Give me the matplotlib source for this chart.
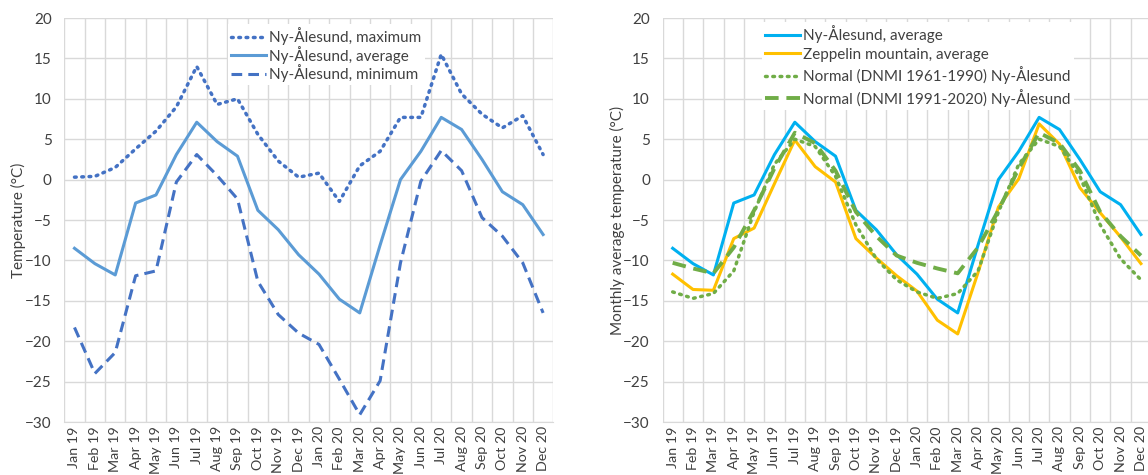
import numpy as np
import matplotlib
matplotlib.use("Agg")
import matplotlib.pyplot as plt
from matplotlib.ticker import FixedLocator

plt.rcParams['font.family'] = ['Lato', 'DejaVu Sans']

# --- data ---------------------------------------------------------------
months = ["Jan 19", "Feb 19", "Mar 19", "Apr 19", "May 19", "Jun 19",
          "Jul 19", "Aug 19", "Sep 19", "Oct 19", "Nov 19", "Dec 19",
          "Jan 20", "Feb 20", "Mar 20", "Apr 20", "May 20", "Jun 20",
          "Jul 20", "Aug 20", "Sep 20", "Oct 20", "Nov 20", "Dec 20"]

ny_max = [0.3, 0.4, 1.5, 3.8, 6.0, 9.0, 14.0, 9.3, 10.0, 5.6, 2.3, 0.3,
          0.8, -2.7, 1.7, 3.5, 7.7, 7.7, 15.5, 10.6, 8.1, 6.4, 7.9, 3.1]
ny_avg = [-8.5, -10.4, -11.8, -2.9, -1.9, 3.1, 7.1, 4.7, 2.9, -3.8, -6.2, -9.3,
          -11.7, -14.8, -16.5, -8.1, 0.0, 3.5, 7.7, 6.2, 2.5, -1.5, -3.1, -6.8]
ny_min = [-18.3, -24.0, -21.4, -11.9, -11.3, -0.3, 3.1, 0.5, -2.4, -12.6, -16.7, -19.0,
          -20.4, -24.7, -29.1, -24.9, -10.3, -0.2, 3.6, 1.1, -4.7, -7.0, -10.3, -16.5]

zeppelin = [-11.7, -13.6, -13.7, -7.3, -6.0, -0.5, 4.9, 1.6, -0.3, -7.3, -9.7, -11.9,
            -13.8, -17.4, -19.1, -11.5, -3.4, 0.1, 6.9, 4.4, -1.0, -4.1, -7.1, -10.4]
normal_6190 = [-13.9, -14.7, -14.1, -11.3, -4.0, 1.9, 5.0, 4.1, 0.4, -5.6, -9.8, -12.4,
               -13.9, -14.7, -14.1, -11.3, -4.0, 1.9, 5.0, 4.1, 0.4, -5.6, -9.8, -12.4]
normal_9120 = [-10.3, -11.0, -11.6, -8.4, -3.8, 1.4, 5.8, 4.5, 1.1, -4.0, -7.0, -9.4,
               -10.3, -11.0, -11.6, -8.4, -3.8, 1.4, 5.8, 4.5, 1.1, -4.0, -7.0, -9.4]

# --- figure -------------------------------------------------------------
W, H = 1148, 475
fig = plt.figure(figsize=(W / 100, H / 100), dpi=100)

ax1 = fig.add_axes([64.3 / W, (H - 422) / H, 489 / W, 404 / H])
ax2 = fig.add_axes([662.5 / W, (H - 422) / H, 488.6 / W, 404 / H])

x = np.arange(len(months))
grid_c = '#D9D9D9'
txt_c = '#404040'
fs = 11


def style(ax):
    ax.set_xlim(-0.5, len(months) - 0.5)
    ax.set_ylim(-30, 20)
    ax.set_yticks(np.arange(-30, 21, 5))
    ax.set_xticks(x)
    ax.set_xticklabels(months, rotation=90)
    ax.xaxis.set_minor_locator(FixedLocator(np.arange(-0.5, len(months), 1)))
    ax.grid(True, which='minor', axis='x', color=grid_c, linewidth=1.0)
    ax.grid(True, which='major', axis='y', color=grid_c, linewidth=1.0)
    ax.set_axisbelow(True)
    for s in ax.spines.values():
        s.set_visible(False)
    ax.spines['bottom'].set_visible(True)
    ax.spines['bottom'].set_color(grid_c)
    ax.tick_params(which='both', length=0, colors=txt_c, labelsize=fs)
    ax.tick_params(axis='y', pad=9)
    ax.tick_params(axis='x', pad=3, labelsize=10.3)


lw = 2.2
# left panel
ax1.plot(x, ny_max, color='#4472C4', lw=2.5, linestyle=(0, (0.5, 1.6)),
         dash_capstyle='round', label='Ny-Ålesund, maximum')
ax1.plot(x, ny_avg, color='#5B9BD5', lw=lw, label='Ny-Ålesund, average')
ax1.plot(x, ny_min, color='#4472C4', lw=lw, linestyle=(0, (3.5, 2.0)),
         label='Ny-Ålesund, minimum')
style(ax1)
leg1 = ax1.legend(loc='upper left', bbox_to_anchor=(228 / W, (H - 24) / H),
                  bbox_transform=fig.transFigure, frameon=True, fancybox=False,
                  edgecolor='none', framealpha=1, fontsize=fs,
                  handlelength=2.3, handletextpad=0.2, labelspacing=0.05,
                  borderpad=0.2, borderaxespad=0)
for t in leg1.get_texts():
    t.set_color(txt_c)

# right panel
ax2.plot(x, ny_avg, color='#00B0F0', lw=lw, label='Ny-Ålesund, average')
ax2.plot(x, zeppelin, color='#FFC000', lw=lw, label='Zeppelin mountain, average')
ax2.plot(x, normal_6190, color='#70AD47', lw=2.5, linestyle=(0, (0.5, 1.6)),
         dash_capstyle='round', label='Normal (DNMI 1961-1990) Ny-Ålesund')
ax2.plot(x, normal_9120, color='#70AD47', lw=2.8, linestyle=(0, (3.5, 2.0)),
         label='Normal (DNMI 1991-2020) Ny-Ålesund')
style(ax2)
leg2 = ax2.legend(loc='upper left', bbox_to_anchor=(762 / W, (H - 22) / H),
                  bbox_transform=fig.transFigure, frameon=True, fancybox=False,
                  edgecolor='none', framealpha=1, fontsize=fs,
                  handlelength=2.3, handletextpad=0.2, labelspacing=0.3,
                  borderpad=0.2, borderaxespad=0)
for t in leg2.get_texts():
    t.set_color(txt_c)

fig.text(18 / W, (H - 220) / H, 'Temperature (°C)', rotation=90,
         ha='center', va='center', fontsize=fs, color=txt_c)
fig.text(617 / W, (H - 220) / H, 'Monthly average temperature (°C)', rotation=90,
         ha='center', va='center', fontsize=fs, color=txt_c)

fig.savefig('out.png', dpi=100)
